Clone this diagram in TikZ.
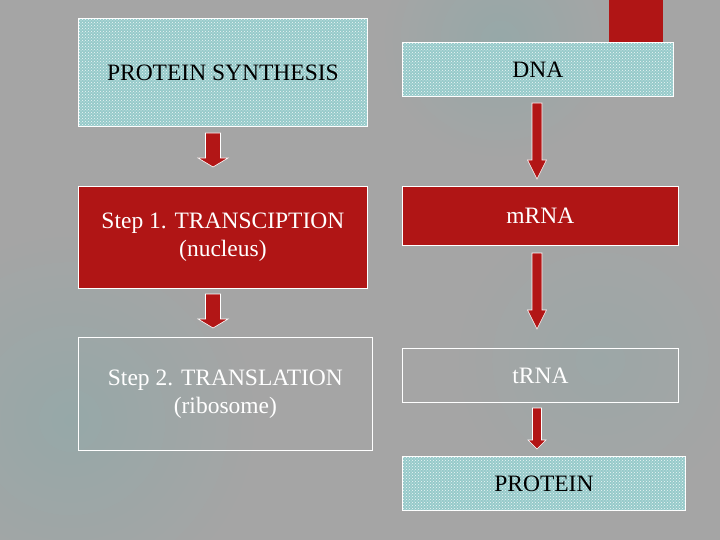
\documentclass[tikz,border=0pt]{standalone}
\usepackage{fontspec}
\setmainfont{Liberation Serif}
\usetikzlibrary{calc,patterns}
\definecolor{bggray}{RGB}{165,165,165}
\definecolor{bgblue}{RGB}{150,168,168}
\definecolor{boxred}{RGB}{176,21,21}
\definecolor{arrowred}{RGB}{178,22,22}
\definecolor{teal}{RGB}{150,202,202}
\tikzset{
  box/.style={anchor=north west, inner sep=0pt, draw=white, line width=0.8pt,
    align=center, font=\fontsize{23.5}{28}\selectfont},
  dotbox/.style={box, fill=teal, text=black,
    postaction={pattern=crosshatch dots, pattern color=white!85!teal}},
  redbox/.style={box, fill=boxred, text=white},
  clearbox/.style={box, text=white},
  blockarrow/.style n args={3}{fill=arrowred, draw=white, line width=0.6pt,
    to path={($(\tikztostart)+(-#1pt,0)$) -- ($(\tikztostart)+(#1pt,0)$)
      -- ($(\tikztotarget)+(#1pt,#3pt)$) -- ($(\tikztotarget)+(#2pt,#3pt)$)
      -- (\tikztotarget) -- ($(\tikztotarget)+(-#2pt,#3pt)$)
      -- ($(\tikztotarget)+(-#1pt,#3pt)$) -- cycle}}
}
\begin{document}
\begin{tikzpicture}[x=1pt,y=-1pt]
\useasboundingbox (0,0) rectangle (720,540);
\fill[bggray] (0,0) rectangle (720,540);
\begin{scope}
\clip (0,0) rectangle (720,540);
\shade[inner color=bgblue, outer color=bggray] (70,420) circle (190);
\shade[inner color=bgblue, outer color=bggray] (500,40) circle (120);
\shade[inner color=bgblue!60!bggray, outer color=bggray] (600,360) circle (150);
\end{scope}
\fill[boxred] (609,0) rectangle (663,42);

\node[dotbox, minimum width=289pt, minimum height=108pt] (ps) at (78,18) {PROTEIN SYNTHESIS};
\node[redbox, minimum width=289pt, minimum height=102pt] (s1) at (78,186) {Step 1. TRANSCIPTION\\(nucleus)};
\node[clearbox, minimum width=294pt, minimum height=113pt] (s2) at (78,337) {Step 2. TRANSLATION\\(ribosome)};

\node[dotbox, minimum width=271pt, minimum height=54pt] (dna) at (402,42) {DNA};
\node[redbox, minimum width=276pt, minimum height=59pt] (mrna) at (402,186) {mRNA};
\node[clearbox, minimum width=276pt, minimum height=54pt] (trna) at (402,348) {tRNA};
\node[dotbox, minimum width=283pt, minimum height=54pt] (prot) at (402,456) {PROTEIN};

\coordinate (a1s) at (213,133); \coordinate (a1e) at (213,167);
\coordinate (a2s) at (213,294); \coordinate (a2e) at (213,328);
\coordinate (a3s) at (537,103); \coordinate (a3e) at (537,179);
\coordinate (a4s) at (537,253); \coordinate (a4e) at (537,329);
\coordinate (a5s) at (537,408); \coordinate (a5e) at (537,449);

\path[blockarrow={7.5}{15}{9}] (a1s) to (a1e);
\path[blockarrow={7.5}{15}{9}] (a2s) to (a2e);
\path[blockarrow={5}{9.5}{19}] (a3s) to (a3e);
\path[blockarrow={5}{9.5}{19}] (a4s) to (a4e);
\path[blockarrow={4.5}{9}{9}] (a5s) to (a5e);
\end{tikzpicture}
\end{document}
